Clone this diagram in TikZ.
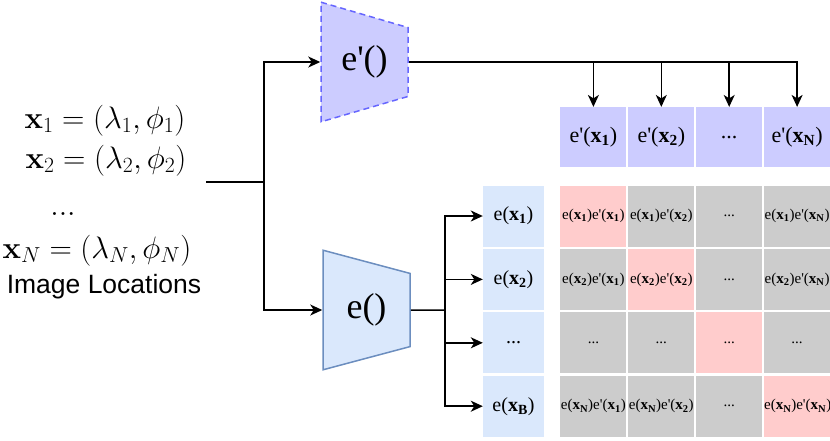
\RequirePackage{fix-cm}
\documentclass[tikz,border=0pt]{standalone}
\usepackage[no-math]{fontspec}
\setmainfont{Liberation Serif}
\newfontfamily\labelsans{Liberation Sans}
\usepackage{amsmath}
\usetikzlibrary{shapes.geometric, arrows.meta, positioning}
\definecolor{encpurple}{HTML}{CCCCFF}
\definecolor{encpurpleline}{HTML}{6666FF}
\definecolor{encblue}{HTML}{DAE8FC}
\definecolor{encblueline}{HTML}{6C8EBF}
\definecolor{simpink}{HTML}{FFCCCC}
\definecolor{simgrey}{HTML}{CCCCCC}
\newcommand{\locx}[1]{\textbf{x\textsubscript{#1}}}
\newcommand{\eprime}{e\textquotesingle}

\begin{document}
\begin{tikzpicture}[x=1pt, y=-1pt,
        arrow/.style={-{Stealth[length=12pt, width=11pt, inset=3.5pt]}, line width=1.5pt},
        link/.style={line width=1.5pt},
        loc/.style={anchor=base, inner sep=0pt, font=\fontsize{31}{36}\selectfont},
        encoder/.style={trapezium, shape border rotate=270, trapezium angle=75.5, trapezium stretches=true, minimum width=120pt, minimum height=87pt, inner sep=0pt, line width=1.5pt, font=\fontsize{36}{40}\selectfont},
        ecell/.style={minimum width=61pt, minimum height=61pt, inner sep=0pt, fill=encblue, font=\fontsize{20}{24}\selectfont},
        pcell/.style={minimum width=66pt, minimum height=60pt, inner sep=0pt, fill=encpurple, font=\fontsize{22}{26}\selectfont},
        simcell/.style={minimum width=66pt, minimum height=61pt, inner sep=0pt, fill=simgrey, font=\fontsize{15}{18}\selectfont}
    ]
        \useasboundingbox (0,0) rectangle (830,440);

        % image locations
        \node (x1) [loc] at (105,128) {$\mathbf{x}_1 = (\lambda_1, \phi_1)$};
        \node (x2) [loc] at (106,168) {$\mathbf{x}_2 = (\lambda_2, \phi_2)$};
        \node (xdots) [loc] at (63,215) {$...$};
        \node (xN) [loc] at (97,258) {$\mathbf{x}_N = (\lambda_N, \phi_N)$};
        \node (locs) [loc, font=\fontsize{26.5}{30}\labelsans] at (104,293) {Image Locations};

        % encoders
        \node (encp) [encoder, dashed, dash pattern=on 6pt off 4pt, fill=encpurple, draw=encpurpleline] at (364.5,62) {\eprime()};
        \node (enc) [encoder, fill=encblue, draw=encblueline] at (366.5,310) {e()};

        % embeddings
        \node (e1) [ecell] at (513.5,216) {e(\locx{1})};
        \node (e2) [ecell, below=2pt of e1] {e(\locx{2})};
        \node (e3) [ecell, below=2pt of e2] {...};
        \node (e4) [ecell, below=2pt of e3] {e(\locx{B})};

        % similarity matrix
        \node (m11) [simcell, fill=simpink, right=16pt of e1] {e(\locx{1})\eprime(\locx{1})};
        \node (m12) [simcell, right=1.5pt of m11] {e(\locx{1})\eprime(\locx{2})};
        \node (m13) [simcell, right=1.5pt of m12] {...};
        \node (m14) [simcell, right=1.5pt of m13] {e(\locx{1})\eprime(\locx{N})};
        \node (m21) [simcell, below=2pt of m11] {e(\locx{2})\eprime(\locx{1})};
        \node (m22) [simcell, fill=simpink, right=1.5pt of m21] {e(\locx{2})\eprime(\locx{2})};
        \node (m23) [simcell, right=1.5pt of m22] {...};
        \node (m24) [simcell, right=1.5pt of m23] {e(\locx{2})\eprime(\locx{N})};
        \node (m31) [simcell, below=2pt of m21] {...};
        \node (m32) [simcell, right=1.5pt of m31] {...};
        \node (m33) [simcell, fill=simpink, right=1.5pt of m32] {...};
        \node (m34) [simcell, right=1.5pt of m33] {...};
        \node (m41) [simcell, below=2pt of m31] {e(\locx{N})\eprime(\locx{1})};
        \node (m42) [simcell, right=1.5pt of m41] {e(\locx{N})\eprime(\locx{2})};
        \node (m43) [simcell, right=1.5pt of m42] {...};
        \node (m44) [simcell, fill=simpink, right=1.5pt of m43] {e(\locx{N})\eprime(\locx{N})};

        \node (p1) [pcell, above=18pt of m11] {\eprime(\locx{1})};
        \node (p2) [pcell, above=18pt of m12] {\eprime(\locx{2})};
        \node (p3) [pcell, above=18pt of m13] {...};
        \node (p4) [pcell, above=18pt of m14] {\eprime(\locx{N})};

        % connectors
        \coordinate (src) at (206,182);
        \coordinate (split) at (264,182);
        \coordinate (fork) at (445,310);
        \draw [link] (src) -- (split);
        \draw [arrow] (split) |- (encp);
        \draw [arrow] (split) |- (enc);
        \draw [arrow] (encp) -| (p4);
        \draw [arrow] (p1 |- encp.east) -- (p1);
        \draw [arrow] (p2 |- encp.east) -- (p2);
        \draw [arrow] (p3 |- encp.east) -- (p3);
        \draw [link] (enc) -- (fork);
        \draw [arrow] (fork) |- (e1);
        \draw [arrow] (fork) |- (e2);
        \draw [arrow] (fork) |- (e3);
        \draw [arrow] (fork) |- (e4);
    \end{tikzpicture}
\end{document}
